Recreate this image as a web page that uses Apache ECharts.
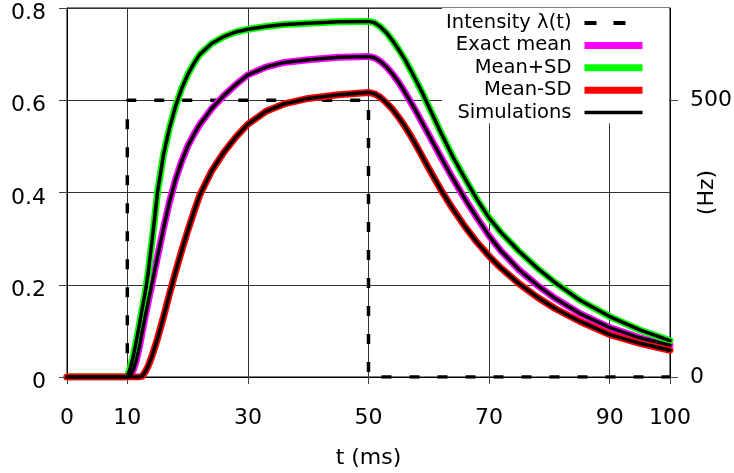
<!DOCTYPE html>
<html>
<head>
<meta charset="utf-8">
<script src="https://cdn.jsdelivr.net/npm/echarts@6/dist/echarts.min.js"></script>
<style>
  html, body { margin: 0; padding: 0; background: #fff; }
  #chart { width: 734px; height: 473px; }
</style>
</head>
<body>
<div id="chart"></div>
<script>
// Time samples (ms) shared by the mean / SD curves
const times = [0, 10, 10.5, 11, 11.5, 12, 12.5, 13, 13.5, 14, 14.5, 15, 16, 17, 18, 19, 20, 21, 22, 24, 26, 28, 30, 33, 36, 40, 45,
  50, 51, 52, 53, 54, 55, 56, 57, 58, 59, 60, 62, 64, 66, 68, 70, 72, 75, 78, 81, 85, 90, 95, 100];

const exactMean = [0, 0, 0.004, 0.016, 0.036, 0.065, 0.1, 0.133, 0.165, 0.196, 0.228, 0.26, 0.322, 0.38, 0.428, 0.467, 0.5, 0.525, 0.547, 0.582, 0.61, 0.634, 0.655, 0.672, 0.682, 0.688, 0.693,
  0.695, 0.692, 0.684, 0.672, 0.657, 0.639, 0.618, 0.596, 0.573, 0.549, 0.525, 0.477, 0.43, 0.386, 0.345, 0.306, 0.273, 0.232, 0.199, 0.17, 0.138, 0.107, 0.085, 0.069];

const meanPlusSD = [0, 0, 0.02, 0.045, 0.078, 0.113, 0.15, 0.185, 0.23, 0.285, 0.34, 0.4, 0.482, 0.54, 0.587, 0.625, 0.655, 0.679, 0.699, 0.723, 0.738, 0.748, 0.754, 0.76, 0.764, 0.767, 0.77,
  0.771, 0.768, 0.759, 0.746, 0.729, 0.71, 0.689, 0.665, 0.64, 0.614, 0.586, 0.53, 0.477, 0.43, 0.385, 0.345, 0.313, 0.272, 0.236, 0.204, 0.167, 0.131, 0.102, 0.079];

const meanMinusSD = [0, 0, 0, 0, 0, 0, 0.002, 0.012, 0.025, 0.042, 0.062, 0.083, 0.13, 0.18, 0.228, 0.273, 0.316, 0.356, 0.394, 0.447, 0.487, 0.52, 0.548, 0.576, 0.592, 0.604, 0.612,
  0.617, 0.614, 0.606, 0.594, 0.58, 0.563, 0.544, 0.523, 0.5, 0.476, 0.452, 0.406, 0.364, 0.326, 0.292, 0.262, 0.236, 0.202, 0.173, 0.148, 0.121, 0.092, 0.073, 0.058];

// Simulated traces (lie on top of the analytic curves)
const simMean = exactMean;
const simPlus = meanPlusSD;
const simMinus = meanMinusSD;

// Step input intensity (Hz)
const intensityT = [0, 10, 10, 50, 50, 100];
const intensityHz = [0, 0, 500, 500, 0, 0];

// Axis ticks
const xTicks = [0, 10, 30, 50, 70, 90, 100];
const hzTicks = [0, 500];

const FONT = 'DejaVu Sans';
const pairs = (xs, ys) => xs.map((x, i) => [x, ys[i]]);

const chart = echarts.init(document.getElementById('chart'), null, { renderer: 'canvas' });

const curve = (name, color, values, width, z) => ({
  name, type: 'line', xAxisIndex: 0, yAxisIndex: 0,
  data: pairs(times, values),
  symbol: 'none', showSymbol: false, smooth: false, z,
  lineStyle: { color, width, cap: 'round', join: 'round' },
  itemStyle: { color },
  emphasis: { disabled: true }
});

chart.setOption({
  animation: false,
  backgroundColor: '#fff',
  textStyle: { fontFamily: FONT },
  grid: {
    left: 67, right: 64, top: 8, bottom: 96,
    containLabel: false, outerBoundsMode: 'none',
    show: true, borderColor: '#000', borderWidth: 1, backgroundColor: 'transparent'
  },
  legend: {
    orient: 'vertical', align: 'right', right: 65, top: 8,
    itemWidth: 58, itemHeight: 10, itemGap: 2.4,
    padding: [5, 23, 1, 4],
    backgroundColor: '#fff',
    selectedMode: false,
    itemStyle: { opacity: 0, borderWidth: 0 },
    textStyle: { fontFamily: FONT, fontSize: 19.5, lineHeight: 19, color: '#000', padding: [0, 8, 0, 0] },
    data: [
      { name: 'Intensity λ(t)', lineStyle: { width: 4, type: [12, 17], cap: 'butt' } },
      { name: 'Exact mean', lineStyle: { width: 7, cap: 'butt' } },
      { name: 'Mean+SD', lineStyle: { width: 7, cap: 'butt' } },
      { name: 'Mean-SD', lineStyle: { width: 7, cap: 'butt' } },
      { name: 'Simulations', lineStyle: { width: 3.5, cap: 'butt' } }
    ]
  },
  xAxis: {
    type: 'value', min: 0, max: 100,
    name: 't (ms)', nameLocation: 'middle', nameGap: 70,
    nameTextStyle: { fontFamily: FONT, fontSize: 22, color: '#000' },
    axisLine: { show: true, lineStyle: { color: '#000', width: 1 } },
    axisTick: { show: true, customValues: xTicks, length: 7, lineStyle: { color: '#444' } },
    axisLabel: { customValues: xTicks, margin: 30, fontFamily: FONT, fontSize: 22, color: '#000' },
    splitLine: { show: true, lineStyle: { color: '#333', width: 1 } }
  },
  yAxis: [
    {
      type: 'value', min: 0, max: 0.8, interval: 0.2, position: 'left',
      axisLine: { show: true, lineStyle: { color: '#000' } },
      axisTick: { show: true, length: 8, lineStyle: { color: '#444' } },
      axisLabel: {
        margin: 21, fontFamily: FONT, fontSize: 22, color: '#000',
        verticalAlign: 'top', lineHeight: 11,
        formatter: v => (v === 0 ? '0' : v.toFixed(1))
      },
      splitLine: { show: true, lineStyle: { color: '#333', width: 1 } }
    },
    {
      type: 'value', min: 0, max: 2000 / 3, position: 'right',
      name: '(Hz)', nameLocation: 'middle', nameGap: 26, nameRotate: 90, nameMoveOverlap: false,
      nameTextStyle: { fontFamily: FONT, fontSize: 22, color: '#000' },
      axisLine: { show: true, lineStyle: { color: '#000' } },
      axisTick: { show: true, customValues: hzTicks, length: 8, lineStyle: { color: '#444' } },
      axisLabel: { customValues: hzTicks, margin: 20, fontFamily: FONT, fontSize: 22, color: '#000' },
      splitLine: { show: false }
    }
  ],
  series: [
    {
      name: 'Intensity λ(t)', type: 'line', xAxisIndex: 0, yAxisIndex: 1,
      data: pairs(intensityT, intensityHz),
      symbol: 'none', showSymbol: false, z: 1,
      lineStyle: { color: '#000', width: 3.5, type: [10, 18], cap: 'butt' },
      itemStyle: { color: '#000' },
      emphasis: { disabled: true }
    },
    curve('Exact mean', '#ff00ff', exactMean, 7, 2),
    curve('Mean+SD', '#00ff00', meanPlusSD, 7, 2),
    curve('Mean-SD', '#ff0000', meanMinusSD, 7, 2),
    curve('Simulations', '#000', simMean, 3.5, 3),
    curve('Simulations', '#000', simPlus, 3.5, 3),
    curve('Simulations', '#000', simMinus, 3.5, 3)
  ]
});
</script>
</body>
</html>
